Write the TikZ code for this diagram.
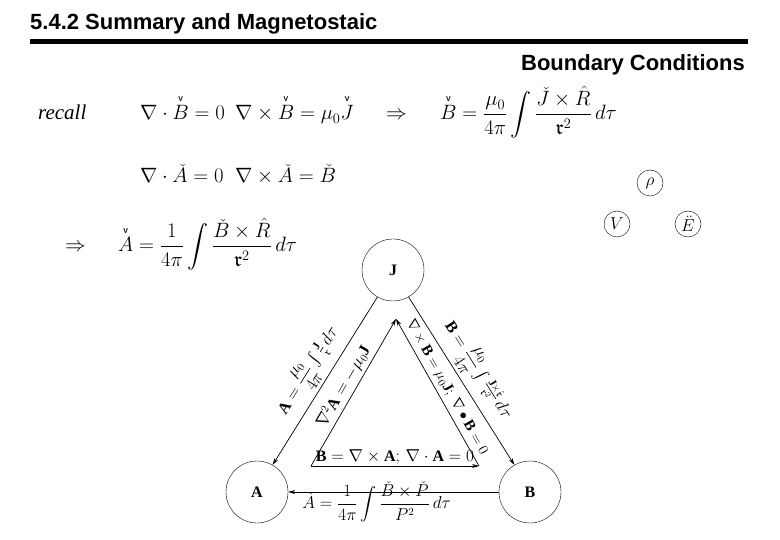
\documentclass[tikz,border=0pt]{standalone}
\usepackage{amsmath,amssymb}
\usepackage{fontspec}
\setsansfont{Liberation Sans}
\setmainfont{Liberation Serif}
\usetikzlibrary{arrows.meta}
\newcommand{\vv}[1]{\overset{\textsf{\bfseries\scriptsize V}}{#1}}
\newcommand{\scr}{\mathfrak{r}}
\begin{document}
\begin{tikzpicture}[x=1pt,y=-1pt,
  eq/.style={anchor=base west,inner sep=0pt,font=\fontsize{21}{25}\selectfont},
  bigc/.style={draw,circle,minimum size=62pt,inner sep=0pt,font=\fontsize{16}{18}\selectfont\bfseries},
  smc/.style={draw,circle,minimum size=26pt,inner sep=0pt,font=\fontsize{16}{18}\selectfont},
  lab/.style={font=\fontsize{16}{18}\selectfont,inner sep=1pt},
  arr/.style={-{Stealth[length=7pt,width=4pt]},line width=0.7pt},
  rarr/.style={{Stealth[length=7pt,width=4pt]}-,line width=0.7pt}]
\useasboundingbox (0,0) rectangle (780,540);
\node[anchor=base west,inner sep=0pt,font=\sffamily\bfseries\fontsize{22}{26}\selectfont] (t1) at (30,30) {5.4.2 Summary and Magnetostaic};
\draw[line width=5pt] (30,42) -- (748,42);
\node[anchor=base east,inner sep=0pt,font=\sffamily\bfseries\fontsize{22}{26}\selectfont] (t2) at (745,71) {Boundary Conditions};
\node[eq] (e1a) at (38,120) {\textit{recall}};
\node[eq] (e1b) at (140,120) {$\nabla\cdot\vv{B}=0$};
\node[eq] (e1c) at (235,120) {$\nabla\times\vv{B}=\mu_0\vv{J}$};
\node[eq] (e1d) at (386,120) {$\Rightarrow$};
\node[eq] (e1e) at (440,120) {$\vv{B}=\dfrac{\mu_0}{4\pi}\displaystyle\int\frac{\check{J}\times\hat{R}}{\scr^2}\,d\tau$};
\node[eq] (e2a) at (140,183) {$\nabla\cdot\check{A}=0$};
\node[eq] (e2b) at (235,183) {$\nabla\times\check{A}=\check{B}$};
\node[eq] (e3a) at (65,252) {$\Rightarrow$};
\node[eq] (e3b) at (118,252) {$\vv{A}=\dfrac{1}{4\pi}\displaystyle\int\frac{\check{B}\times\hat{R}}{\scr^2}\,d\tau$};
\node[smc] (rho) at (650,183) {$\rho$};
\node[smc] (V) at (617,224) {$V$};
\node[smc] (E) at (688,224) {$\ddot{E}$};
\node[bigc] (J) at (393,270) {J};
\node[bigc] (A) at (257,492) {A};
\node[bigc] (B) at (530,492) {B};
\coordinate (il) at (311,466);
\coordinate (ir) at (479,466);
\coordinate (it) at (396,319);
\draw[arr] (J.240) -- (A.60) node[lab,midway,sloped,above=2pt] {$\mathbf{A}=\dfrac{\mu_0}{4\pi}\int\frac{\mathbf{J}}{\scr}\,d\tau$};
\draw[arr] (J.300) -- (B.120) node[lab,midway,sloped,above=2pt] {$\mathbf{B}=\dfrac{\mu_0}{4\pi}\int\frac{\mathbf{J}\times\hat{\scr}}{\scr^2}\,d\tau$};
\draw[arr] (il) -- (it) node[lab,pos=0.5,sloped,above=2pt] {$\nabla^2\mathbf{A}=-\mu_0\mathbf{J}$};
\draw[rarr] (it) -- (ir) node[lab,pos=0.5,sloped,above=3pt,font=\fontsize{15}{17}\selectfont] {$\nabla\times\mathbf{B}=\mu_0\mathbf{J};\ \nabla\bullet\mathbf{B}=0$};
\draw[arr] (il) -- (ir) node[lab,midway,above] {$\mathbf{B}=\nabla\times\mathbf{A};\,\nabla\cdot\mathbf{A}=0$};
\draw[arr] (B.west) -- (A.east) node[lab,pos=0.58,below=-12pt] {$\check{A}=\dfrac{1}{4\pi}\displaystyle\int\frac{\check{B}\times\check{P}}{P^2}\,d\tau$};
\end{tikzpicture}
\end{document}
